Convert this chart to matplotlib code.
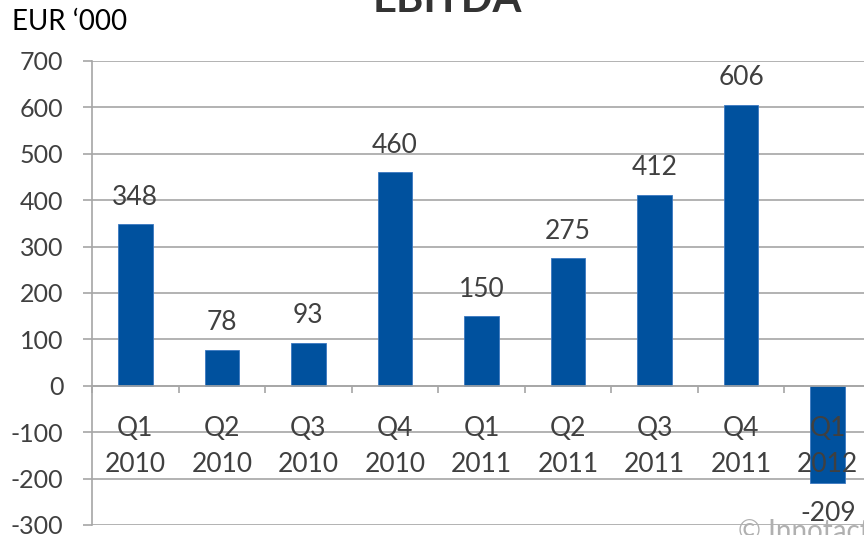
import matplotlib.pyplot as plt
import numpy as np

# data
quarters = ['Q1', 'Q2', 'Q3', 'Q4', 'Q1', 'Q2', 'Q3', 'Q4', 'Q1']
years = ['2010', '2010', '2010', '2010', '2011', '2011', '2011', '2011', '2012']
ebitda = [348, 78, 93, 460, 150, 275, 412, 606, -209]
y_ticks = [-300, -200, -100, 0, 100, 200, 300, 400, 500, 600, 700]

plt.rcParams['font.family'] = ['Lato', 'DejaVu Sans']
text_col = '#404040'
grid_col = '#a6a6a6'
bar_col = '#00519e'

fig = plt.figure(figsize=(8.64, 5.35), dpi=100)
ax = fig.add_axes([92 / 864, 10 / 535, 779 / 864, 464 / 535])

x = np.arange(len(ebitda))
# horizontal gridlines behind the bars
for t in y_ticks:
    ax.axhline(t, color=grid_col, linewidth=1.2, zorder=0)
ax.bar(x, ebitda, width=0.4, color=bar_col, edgecolor='#3a78c0', linewidth=0.6, zorder=1)

# value labels
for xi, v in zip(x, ebitda):
    off = 58 if v >= 0 else -66
    ax.text(xi, v + off, str(v), ha='center', va='center', fontsize=19, color=text_col, zorder=4)

ax.set_xlim(-0.5, len(ebitda) - 0.5)
ax.set_ylim(-300, 700)
ax.set_yticks(y_ticks)
ax.set_yticklabels([str(t) for t in y_ticks])
ax.tick_params(axis='y', length=6.5, width=1.2, color=grid_col, pad=14,
               labelsize=18, labelcolor=text_col)

# category axis on the zero line, labels drawn over the bars
ax.xaxis.set_zorder(3)
ax.spines['bottom'].set_position(('data', 0))
ax.spines['bottom'].set_color(grid_col)
ax.spines['bottom'].set_linewidth(1.2)
ax.spines['left'].set_color(grid_col)
ax.spines['left'].set_linewidth(1.2)
ax.spines['top'].set_visible(False)
ax.spines['right'].set_visible(False)
ax.set_xticks(np.arange(len(ebitda) + 1) - 0.5)
ax.set_xticklabels([])
ax.set_xticks(x, minor=True)
ax.set_xticklabels([q + '\n' + y for q, y in zip(quarters, years)], minor=True)
ax.tick_params(axis='x', which='major', length=5, width=1.2, color=grid_col)
ax.tick_params(axis='x', which='minor', length=0, pad=22, labelsize=19, labelcolor=text_col)
for lbl in ax.get_xticklabels(minor=True):
    lbl.set_linespacing(1.55)

fig.text(12 / 864, 1 - 22 / 535, 'EUR \u2018000', fontsize=20, color='#000000', va='center', ha='left')
fig.text(447 / 864, 1 - 12 / 535, 'EBITDA', fontsize=30, fontweight='bold', color='#333333',
         ha='center', va='baseline')
fig.text(738 / 864, 1 - 532 / 535, '\u00a9 Innotact Software', fontsize=20, color='#b0b0b0',
         ha='left', va='center')

fig.savefig('out.png', dpi=100)
